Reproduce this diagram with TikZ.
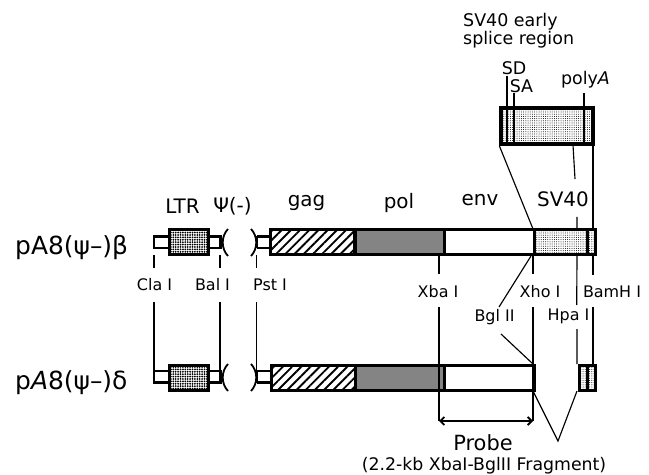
\documentclass[tikz,border=0pt]{standalone}
\usepackage{fontspec}
\setmainfont{DejaVu Sans}
\usetikzlibrary{arrows.meta,patterns.meta}

\begin{document}
\begin{tikzpicture}[
    x=1bp, y=-1bp,
    segment/.style={rectangle, draw=black, line width=3bp, minimum height=25bp, inner sep=0pt, anchor=west},
    ltrfill/.style={preaction={fill=white}, pattern={Dots[distance=2.4bp, radius=1bp, xshift=0.5bp]}},
    gagfill/.style={pattern={Lines[angle=45, distance=6.5bp, line width=1.9bp]}},
    polfill/.style={preaction={fill=gray!65}, pattern={Dots[distance=2bp, radius=0.7bp]}},
    svfill/.style={pattern={Dots[distance=2.2bp, radius=0.5bp]}},
    tube/.style={line width=2.8bp},
    site/.style={line width=1.15bp},
    tick/.style={line width=1.6bp},
    endcurve/.style={line width=1.8bp},
    small/.style={font=\fontsize{16}{18}\selectfont, inner sep=0pt},
    inset/.style={font=\fontsize{17.5}{18}\selectfont, inner sep=0pt},
    region/.style={font=\fontsize{20}{22}\selectfont, inner sep=0pt},
    plasmid/.style={font=\fontsize{25}{28}\selectfont, inner sep=0pt, anchor=west}
]
\useasboundingbox (0,0) rectangle (649,475);

% Upper construct
\node[plasmid] (upname) at (15,248) {pA8(ψ–)β};
\node[segment, ltrfill, minimum width=39bp] (upltr) at (167.5,242.5) {};
\node[segment, gagfill, minimum width=84bp] (upgag) at (270,242.5) {};
\node[segment, polfill, minimum width=89bp] (uppol) at (354,242.5) {};
\node[segment, minimum width=90bp] (upenv) at (443,242.5) {};
\node[segment, svfill, minimum width=53bp] (upsv) at (533,242.5) {};
\node[segment, svfill, minimum width=7.5bp] (upend) at (586,242.5) {};

% Upper tubes
\draw[tube] (upltr.west |- 0,236.5) -- (154,236.5) -- (154,248) -- (upltr.west |- 0,248);
\draw[tube] (upltr.east |- 0,236.5) -- (222,236.5);
\draw[tube] (upltr.east |- 0,248) -- (222,248);
\draw[tube] (220.5,236.5) -- (220.5,248);
\draw[tube] (257,236.5) -- (upgag.west |- 0,236.5);
\draw[tube] (257,248) -- (upgag.west |- 0,248);
\draw[tube] (257,236.5) -- (257,248);
\draw[endcurve] (228,229) .. controls (221,236) and (221,249) .. (228,256);
\draw[endcurve] (251,229) .. controls (258,236) and (258,249) .. (251,256);

% Lower construct
\node[plasmid] (loname) at (15,383) {p\textit{A}8(ψ–)δ};
\node[segment, ltrfill, minimum width=39bp] (loltr) at (167.5,377.5) {};
\node[segment, gagfill, minimum width=84bp] (logag) at (270,377.5) {};
\node[segment, polfill, minimum width=89bp] (lopol) at (354,377.5) {};
\node[segment, minimum width=90bp] (loenv) at (443,377.5) {};
\node[segment, svfill, minimum width=8bp] (losv) at (578,377.5) {};
\node[segment, svfill, minimum width=8bp] (loend) at (586,377.5) {};

% Lower tubes
\draw[tube] (loltr.west |- 0,371) -- (154,371) -- (154,382.5) -- (loltr.west |- 0,382.5);
\draw[tube] (loltr.east |- 0,371) -- (222,371);
\draw[tube] (loltr.east |- 0,382.5) -- (222,382.5);
\draw[tube] (220.5,371) -- (220.5,382.5);
\draw[tube] (257,371) -- (logag.west |- 0,371);
\draw[tube] (257,382.5) -- (logag.west |- 0,382.5);
\draw[tube] (257,371) -- (257,382.5);
\draw[endcurve] (228,364) .. controls (221,371) and (221,384) .. (228,391);
\draw[endcurve] (251,364) .. controls (258,371) and (258,384) .. (251,391);

% Splice region box
\node[rectangle, draw=black, line width=3.4bp, svfill, minimum width=92bp, minimum height=36bp, inner sep=0pt] (splice) at (547,126) {};
\draw[tick] (507,76) -- (507,144);
\draw[tick] (514,93) -- (514,144);
\draw[tick] (584,93) -- (584,144);
\node[inset, align=left, anchor=north west] (splicetext) at (463,13) {SV40 early\\splice region};
\node[inset] (sd) at (514,68) {SD};
\node[inset] (sa) at (521.5,86) {SA};
\node[inset] (polya) at (585.5,80) {poly\textit{A}};

% Region names
\node[region] (ltr) at (182.5,206) {LTR};
\node[region] (psi) at (232.5,206) {Ψ(-)};
\node[region] (gag) at (306.5,203) {gag};
\node[region] (pol) at (399,203) {pol};
\node[region] (env) at (480,200) {env};
\node[region] (sv) at (563,199) {SV40};

% Site labels
\node[small] (cla) at (154.5,285) {Cla I};
\node[small] (bal) at (212.5,285) {Bal I};
\node[small] (pst) at (270,285) {Pst I};
\node[small] (xba) at (438,292) {Xba I};
\node[small] (xho) at (540,292) {Xho I};
\node[small] (bam) at (612,292) {BamH I};
\node[small] (bgl) at (494.5,317) {Bgl II};
\node[small] (hpa) at (568.5,316) {Hpa I};

% Site lines
\draw[site] (154,255) -- (154,268) (154,302) -- (154,371);
\draw[site] (220,255) -- (220,268) (220,302) -- (220,371);
\draw[site] (256.5,255) -- (256.5,268) (256.5,302) -- (256.5,371);
\draw[site] (439,256) -- (439,274) (439,307) -- (439,421);
\draw[site] (533,256) -- (533,274) (533,307) -- (533,421);
\draw[site] (593,256) -- (593,275) (593,307) -- (593,364);
\draw[site] (577,256) -- (576.7,305) (577,329) -- (577,364);
\draw[site] (531,256) -- (499,307) (501,334) -- (533,364);

% Lines from splice region down
\draw[site] (splice.south west) -- (533,229);
\draw[site] (593,144) -- (593,229);
\draw[site] (573,145) -- (575,179) (577,217) -- (577,229);

% Deleted part
\draw[site] (533,391) -- (558,441) -- (577,391);

% Probe
\draw[{Straight Barb[length=4bp,width=8bp]}-{Straight Barb[length=4bp,width=8bp]}, line width=1.8bp] (439,421) -- (533,421);
\node[font=\fontsize{21}{24}\selectfont, inner sep=0pt] (probe) at (483,443) {Probe};
\node[font=\fontsize{17.4}{20}\selectfont, inner sep=0pt] (fragment) at (484,466) {(2.2-kb XbaI-BglII Fragment)};
\end{tikzpicture}
\end{document}
